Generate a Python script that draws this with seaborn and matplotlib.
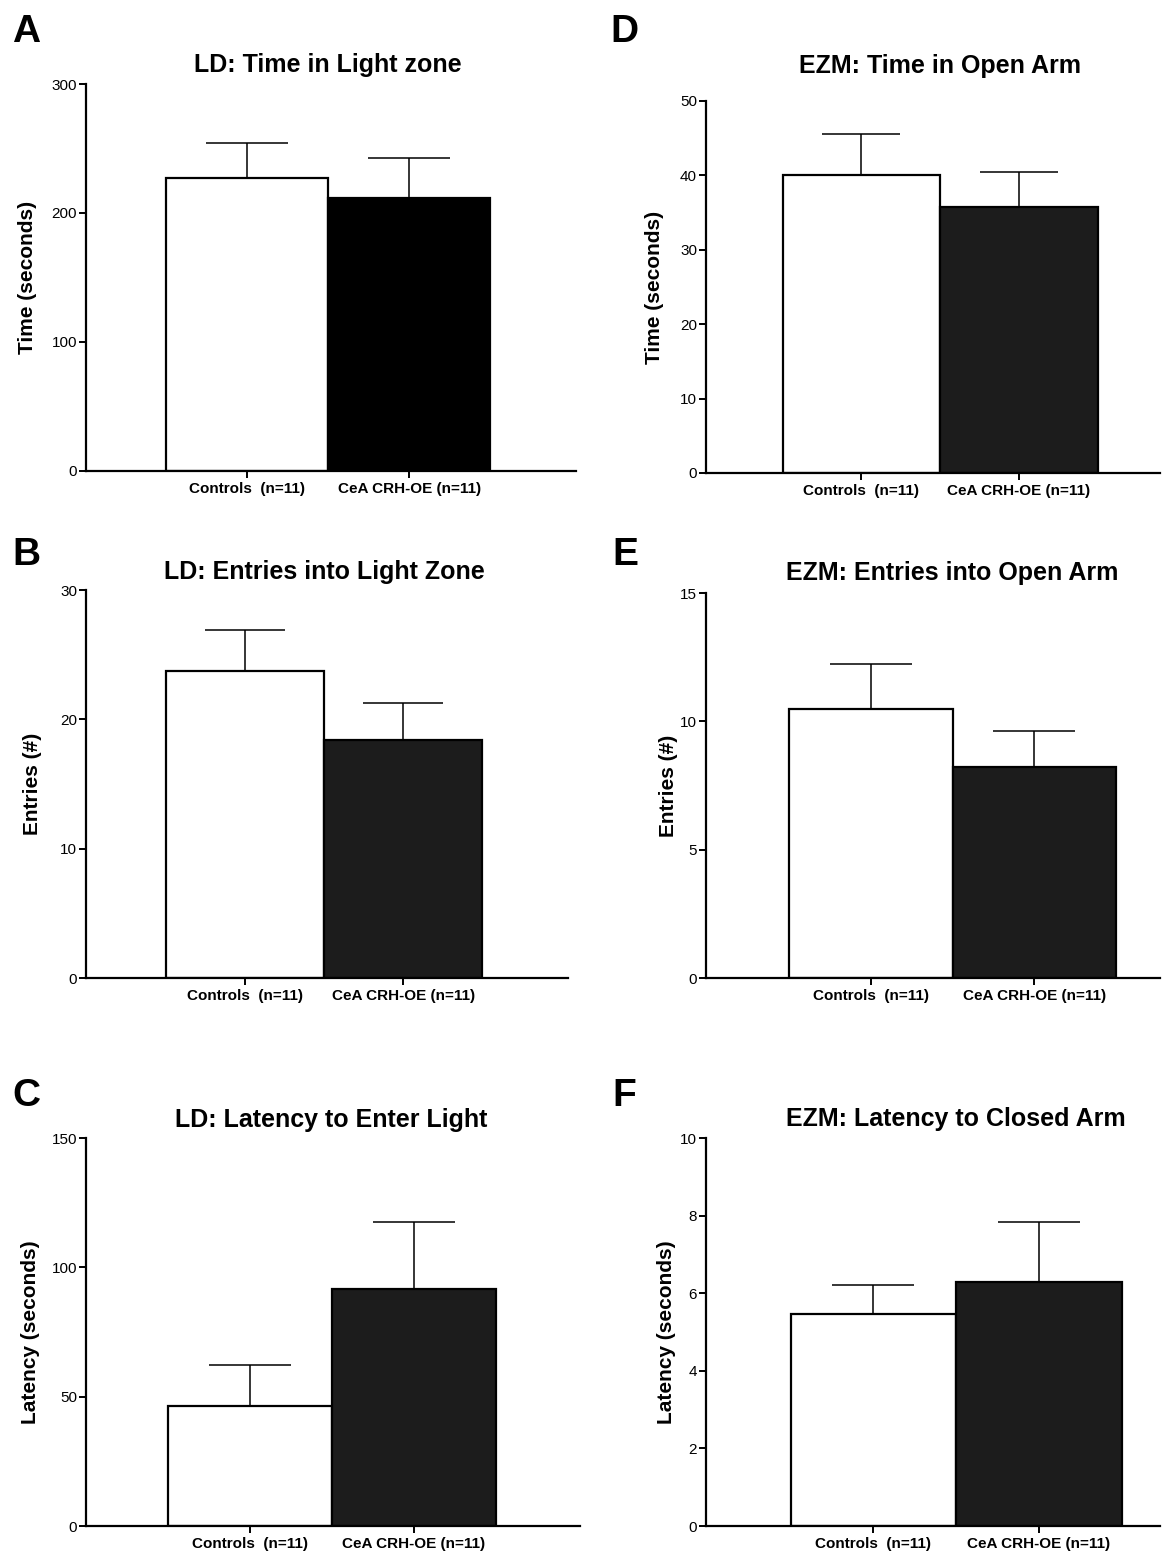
import numpy as np
import pandas as pd
import matplotlib
matplotlib.use("Agg")
import matplotlib.pyplot as plt
import matplotlib.transforms as mtransforms
import seaborn as sns

sns.set_style("ticks")
plt.rcParams["font.family"] = ["Liberation Sans", "DejaVu Sans"]
plt.rcParams["text.color"] = "black"
plt.rcParams["axes.labelcolor"] = "black"
plt.rcParams["xtick.color"] = "black"
plt.rcParams["ytick.color"] = "black"
plt.rcParams["axes.edgecolor"] = "black"

# ---------------- data ----------------
groups = ["Controls  (n=11)", "CeA CRH-OE (n=11)"]

ld_time_mean = [227, 212]
ld_time_sem = [27, 31]

ld_entries_mean = [23.7, 18.4]
ld_entries_sem = [3.2, 2.9]

ld_latency_mean = [46.4, 91.6]
ld_latency_sem = [15.8, 25.9]

ezm_time_mean = [40.1, 35.8]
ezm_time_sem = [5.5, 4.7]

ezm_entries_mean = [10.48, 8.22]
ezm_entries_sem = [1.75, 1.40]

ezm_latency_mean = [5.46, 6.29]
ezm_latency_sem = [0.75, 1.55]

panels = [
    # letter, title, ylabel, means, sems, ymax, yticks, dark colour
    ("A", "LD: Time in Light zone", "Time (seconds)", ld_time_mean, ld_time_sem, 300, [0, 100, 200, 300], "#000000"),
    ("B", "LD: Entries into Light Zone", "Entries (#)", ld_entries_mean, ld_entries_sem, 30, [0, 10, 20, 30], "#1c1c1c"),
    ("C", "LD: Latency to Enter Light", "Latency (seconds)", ld_latency_mean, ld_latency_sem, 150, [0, 50, 100, 150], "#1c1c1c"),
    ("D", "EZM: Time in Open Arm", "Time (seconds)", ezm_time_mean, ezm_time_sem, 50, [0, 10, 20, 30, 40, 50], "#1c1c1c"),
    ("E", "EZM: Entries into Open Arm", "Entries (#)", ezm_entries_mean, ezm_entries_sem, 15, [0, 5, 10, 15], "#1c1c1c"),
    ("F", "EZM: Latency to Closed Arm", "Latency (seconds)", ezm_latency_mean, ezm_latency_sem, 10, [0, 2, 4, 6, 8, 10], "#1c1c1c"),
]

# ---------------- layout (pixels) ----------------
W, H = 1163, 1553
DPI = 100
layout = {
    # x0, x1, ytop, ybot, xlim, ylabel_x, title_baseline, letter_x, letter_baseline
    "A": (86, 576, 84, 471, (-0.994, 2.03), 28, 72, 12, 42),
    "B": (86, 568, 590, 978, (-1.003, 2.04), 33, 579, 12, 565),
    "C": (86, 580, 1138, 1526, (-0.997, 2.015), 31, 1127, 12, 1106),
    "D": (706, 1160, 101, 473, (-0.987, 1.895), 654, 73, 610, 42),
    "E": (706, 1160, 593, 978, (-1.01, 1.77), 668, 580, 612, 565),
    "F": (706, 1160, 1138, 1526, (-1.01, 1.73), 667, 1126, 612, 1106),
}

fig = plt.figure(figsize=(W / DPI, H / DPI), dpi=DPI)
fig.patch.set_facecolor("white")

for letter, title, ylabel, means, sems, ymax, yticks, dark in panels:
    x0, x1, yt, yb, xlim, ylx, tby, lx, lby = layout[letter]
    ax = fig.add_axes([x0 / W, 1 - yb / H, (x1 - x0) / W, (yb - yt) / H])
    df = pd.DataFrame({"group": groups, "value": means})
    sns.barplot(data=df, x="group", y="value", hue="group", order=groups,
                hue_order=groups, palette=["white", dark], edgecolor="black",
                linewidth=1.6, width=1.0, errorbar=None, legend=False, ax=ax,
                saturation=1)
    ax.set_xlim(*xlim)
    ax.set_ylim(0, ymax)
    ax.set_yticks(yticks)
    ax.set_yticklabels([str(t) for t in yticks], fontsize=11)
    ax.set_xticks([0, 1])
    ax.set_xticklabels(groups, fontsize=11, fontweight="bold")
    ax.set_xlabel("")
    ax.set_ylabel(ylabel, fontsize=15, fontweight="bold", va="center")
    ax.yaxis.set_label_coords((ylx - x0) / (x1 - x0), 0.5)
    sns.despine(ax=ax)
    for s in ["left", "bottom"]:
        ax.spines[s].set_linewidth(1.6)
        ax.spines[s].set_color("black")
    ax.tick_params(axis="both", direction="out", length=5, width=1.4, color="black",
                   labelcolor="black")
    ax.tick_params(axis="y", pad=1.5)
    ax.tick_params(axis="x", pad=3)
    ax.set_facecolor("white")

    # one-sided SEM error bars, cap spans half the bar width
    px_per_unit = (x1 - x0) / (xlim[1] - xlim[0])
    cap_pt = 0.25 * px_per_unit * 72 / DPI
    ax.errorbar([0, 1], means, yerr=[np.zeros(len(sems)), sems], fmt="none",
                ecolor="black", elinewidth=1.1, capsize=cap_pt, capthick=1.1,
                zorder=1)

    tr = mtransforms.blended_transform_factory(ax.transData, fig.transFigure)
    fig.text(0.5, 1 - tby / H, title, transform=tr, ha="center", va="baseline",
             fontsize=18, fontweight="bold", color="black")
    fig.text(lx / W, 1 - lby / H, letter, ha="left", va="baseline",
             fontsize=28, fontweight="bold", color="black")

fig.savefig("out.png", dpi=DPI, facecolor="white")
